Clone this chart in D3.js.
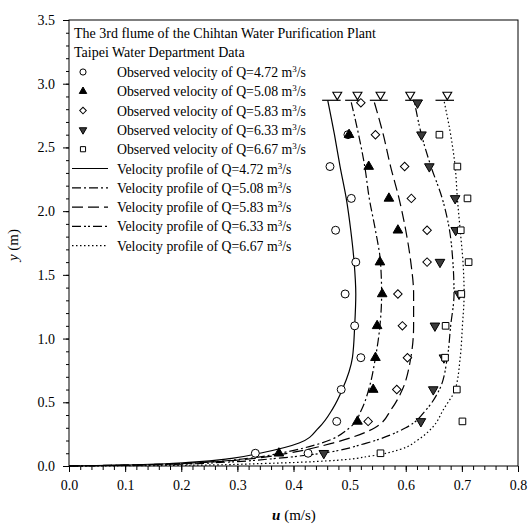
<!DOCTYPE html>
<meta charset="utf-8">
<head>
  <title>Velocity profiles, Chihtan flume</title>
</head>
<style>
body { margin: 0; background: #fff; }
text { font-family: "Liberation Serif", "Times New Roman", serif; fill: #000; }
.curve { fill: none; stroke: #000; stroke-width: 1.2; }
</style>
<body>
<svg width="532" height="530"></svg>
<script src="https://cdn.jsdelivr.net/npm/d3@7"></script>
<script>

// observed velocities [u (m/s), y (m)]
var obs472 = [[0.332,0.10],[0.477,0.35],[0.485,0.60],[0.520,0.85],[0.509,1.10],[0.492,1.35],[0.511,1.60],[0.475,1.85],[0.503,2.10],[0.465,2.35],[0.497,2.60],[0.426,0.10]];
var obs508 = [[0.374,0.10],[0.514,0.35],[0.542,0.60],[0.546,0.85],[0.549,1.10],[0.558,1.35],[0.554,1.60],[0.586,1.85],[0.570,2.10],[0.534,2.35],[0.499,2.60]];
var obs583 = [[0.533,0.35],[0.584,0.60],[0.603,0.85],[0.594,1.10],[0.586,1.35],[0.638,1.60],[0.638,1.85],[0.610,2.10],[0.598,2.35],[0.546,2.60],[0.520,2.85]];
var obs633 = [[0.454,0.10],[0.627,0.35],[0.649,0.60],[0.668,0.85],[0.652,1.10],[0.695,1.35],[0.661,1.60],[0.689,1.85],[0.688,2.10],[0.642,2.35],[0.628,2.60],[0.621,2.85]];
var obs667 = [[0.555,0.10],[0.701,0.35],[0.691,0.60],[0.670,0.85],[0.671,1.10],[0.699,1.35],[0.712,1.60],[0.698,1.85],[0.710,2.10],[0.692,2.35],[0.660,2.60]];

// velocity profiles [u, y]
var prof472 = [[0,0],[0.12,0.01],[0.22,0.03],[0.29,0.06],[0.34,0.10],[0.41,0.18],[0.445,0.30],[0.47,0.45],[0.487,0.60],[0.505,0.85],[0.509,1.10],[0.511,1.35],[0.508,1.60],[0.502,1.85],[0.494,2.10],[0.483,2.35],[0.473,2.60],[0.461,2.87]];
var prof508 = [[0,0],[0.13,0.01],[0.24,0.03],[0.32,0.06],[0.375,0.10],[0.45,0.18],[0.50,0.30],[0.522,0.45],[0.534,0.60],[0.546,0.85],[0.554,1.10],[0.557,1.35],[0.555,1.60],[0.546,1.85],[0.535,2.10],[0.527,2.35],[0.516,2.60],[0.502,2.87]];
var prof583 = [[0,0],[0.14,0.01],[0.25,0.03],[0.33,0.06],[0.39,0.10],[0.47,0.18],[0.545,0.30],[0.575,0.45],[0.594,0.60],[0.609,0.85],[0.614,1.10],[0.614,1.35],[0.609,1.60],[0.600,1.85],[0.588,2.10],[0.573,2.35],[0.560,2.60],[0.543,2.87]];
var prof633 = [[0,0],[0.16,0.01],[0.28,0.03],[0.37,0.06],[0.45,0.10],[0.53,0.18],[0.60,0.30],[0.638,0.45],[0.660,0.60],[0.674,0.85],[0.680,1.10],[0.686,1.35],[0.684,1.60],[0.678,1.85],[0.665,2.10],[0.645,2.35],[0.628,2.60],[0.615,2.87]];
var prof667 = [[0,0],[0.20,0.005],[0.35,0.02],[0.46,0.04],[0.54,0.08],[0.59,0.13],[0.62,0.20],[0.647,0.30],[0.668,0.45],[0.688,0.60],[0.697,0.85],[0.701,1.10],[0.704,1.35],[0.702,1.60],[0.697,1.85],[0.692,2.10],[0.688,2.35],[0.680,2.60],[0.668,2.87]];

// water surface markers: centre of the triangle, line from/to
var surfaceY = 2.87;
var surfaceMarks = [[0.478,0.451,0.484],[0.514,0.492,0.523],[0.555,0.536,0.568],[0.608,0.599,0.630],[0.674,0.653,0.686]];

var discharges = ["4.72","5.08","5.83","6.33","6.67"];
var titleLines = ["The 3rd flume of the Chihtan Water Purification Plant", "Taipei Water Department Data"];
var xTicks = [0,0.1,0.2,0.3,0.4,0.5,0.6,0.7,0.8];
var yTicks = [0,0.5,1.0,1.5,2.0,2.5,3.0,3.5];

var svg = d3.select("svg");
var x = d3.scaleLinear().domain([0, 0.8]).range([69, 518]);
var y = d3.scaleLinear().domain([0, 3.5]).range([466, 20]);

// diamond = square turned 45 degrees, as in the print
var symbols = [
  {type: d3.symbolCircle, size: 50, fill: "#fff", rot: 0},
  {type: d3.symbolTriangle, size: 40, fill: "#000", rot: 0},
  {type: d3.symbolSquare, size: 36, fill: "#fff", rot: 45},
  {type: d3.symbolTriangle, size: 40, fill: "#3a3a3a", rot: 180},
  {type: d3.symbolSquare, size: 44, fill: "#fff", rot: 0}
];
var dashes = [null, "9,3,2,3", "11,5", "9,3,2,2,2,3", "1.5,2.5"];

// axes
var xAxis = d3.axisBottom(x).tickValues(d3.range(0, 0.801, 0.02)).tickSize(4).tickFormat("");
var xMajor = d3.axisBottom(x).tickValues(xTicks).tickSize(6).tickPadding(8).tickFormat(d3.format(".1f"));
var yAxis = d3.axisLeft(y).tickValues(d3.range(0, 3.501, 0.1)).tickSize(3).tickFormat("");
var yMajor = d3.axisLeft(y).tickValues(yTicks).tickSize(6).tickPadding(8).tickFormat(d3.format(".1f"));

[xAxis, xMajor].forEach(function(a) {
  svg.append("g").attr("transform", "translate(0,466)").call(a);
});
[yAxis, yMajor].forEach(function(a) {
  svg.append("g").attr("transform", "translate(69,0)").call(a);
});
svg.selectAll(".domain").remove();
svg.selectAll(".tick line").attr("stroke", "#000");
svg.selectAll(".tick text").style("font-family", "Liberation Serif").style("font-size", "14px");

svg.append("rect")
  .attr("x", x(0)).attr("y", y(3.5))
  .attr("width", x(0.8) - x(0)).attr("height", y(0) - y(3.5))
  .attr("fill", "none").attr("stroke", "#000").attr("stroke-width", 1);

// axis titles
var xt = svg.append("text").attr("x", 294).attr("y", 520).attr("text-anchor", "middle").style("font-size", "15px");
xt.append("tspan").style("font-style", "italic").style("font-weight", "bold").text("u");
xt.append("tspan").text("  (m/s)");
var yt = svg.append("text").attr("transform", "translate(18,245) rotate(-90)").attr("text-anchor", "middle").style("font-size", "15px");
yt.append("tspan").style("font-style", "italic").text("y");
yt.append("tspan").text(" (m)");

// profiles
var line = d3.line().x(function(d) { return x(d[0]); }).y(function(d) { return y(d[1]); }).curve(d3.curveMonotoneY);
[prof472, prof508, prof583, prof633, prof667].forEach(function(p, i) {
  svg.append("path").datum(p).attr("class", "curve").attr("d", line)
    .attr("stroke-dasharray", dashes[i]);
});

// surface markers
var surf = svg.append("g").selectAll("g").data(surfaceMarks).enter().append("g");
surf.append("line")
  .attr("x1", function(d) { return x(d[1]); }).attr("x2", function(d) { return x(d[2]); })
  .attr("y1", y(surfaceY)).attr("y2", y(surfaceY)).attr("stroke", "#000").attr("stroke-width", 1.2);
surf.append("path")
  .attr("d", d3.symbol().type(d3.symbolTriangle).size(34))
  .attr("transform", function(d) { return "translate(" + x(d[0]) + "," + (y(surfaceY) - 5.5) + ") rotate(180)"; })
  .attr("fill", "#fff").attr("stroke", "#000").attr("stroke-width", 1.1);

// observed points
[obs472, obs508, obs583, obs633, obs667].forEach(function(s, i) {
  var sym = symbols[i];
  svg.append("g").selectAll("path").data(s).enter().append("path")
    .attr("d", d3.symbol().type(sym.type).size(sym.size))
    .attr("transform", function(d) { return "translate(" + x(d[0]) + "," + y(d[1]) + ") rotate(" + sym.rot + ")"; })
    .attr("fill", sym.fill).attr("stroke", "#000").attr("stroke-width", 1);
});

// legend
var lg = svg.append("g");
titleLines.forEach(function(t, i) {
  lg.append("text").attr("x", 74).attr("y", 38 + i * 19).style("font-size", "14px").text(t);
});
function addLabel(prefix, q, yy) {
  var t = lg.append("text").attr("x", 117).attr("y", yy + 5).style("font-size", "13.8px");
  t.append("tspan").text(prefix + "Q=" + q + " m");
  t.append("tspan").attr("dy", -5).style("font-size", "9px").text("3");
  t.append("tspan").attr("dy", 5).text("/s");
}
discharges.forEach(function(q, i) {
  var yy = 72 + i * 19.3;
  var sym = symbols[i];
  lg.append("path")
    .attr("d", d3.symbol().type(sym.type).size(sym.size * 0.6))
    .attr("transform", "translate(83," + yy + ") rotate(" + sym.rot + ")")
    .attr("fill", sym.fill).attr("stroke", "#000").attr("stroke-width", 1);
  addLabel("Observed velocity of ", q, yy);
});
discharges.forEach(function(q, i) {
  var yy = 72 + (i + 5) * 19.3;
  lg.append("line").attr("x1", 72).attr("x2", 108).attr("y1", yy).attr("y2", yy)
    .attr("class", "curve").attr("stroke-dasharray", dashes[i]);
  addLabel("Velocity profile of ", q, yy);
});

</script>
</body>
</html>
